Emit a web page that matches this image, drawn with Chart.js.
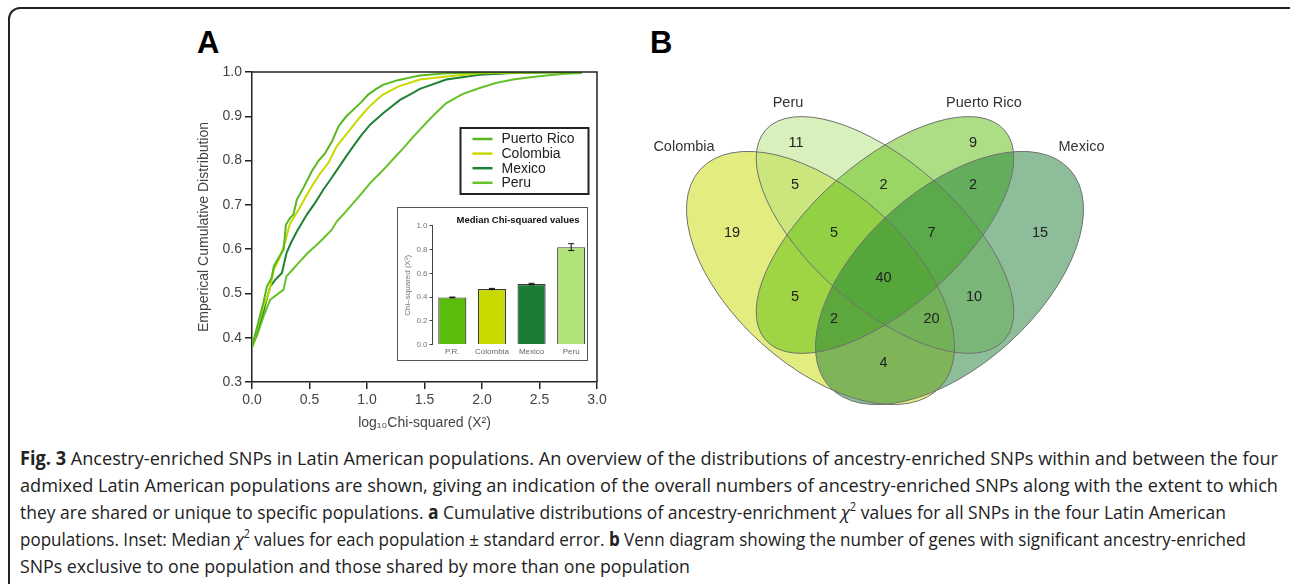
<!DOCTYPE html>
<html>
<head>
<meta charset="utf-8">
<script src="https://cdn.jsdelivr.net/npm/chart.js"></script>
<style>
  html, body { margin: 0; padding: 0; background: #fff; width: 1290px; height: 584px; overflow: hidden; }
  body { font-family: 'Liberation Sans', Arial, sans-serif; position: relative; }
  #frame { position: absolute; left: 8px; top: 7px; width: 1300px; height: 600px; border: 2px solid #222; border-radius: 12px; }
  .panel { position: absolute; font-family: 'Liberation Sans', Arial, sans-serif; font-weight: bold; font-size: 31px; color: #000; line-height: 1; }
  #boxA { position: absolute; left: 196px; top: 50px; width: 430px; height: 382px; }
  #inset { position: absolute; left: 397px; top: 207px; width: 189px; height: 152px; border: 1.5px solid #555; background: #fff; overflow: hidden; }
  #insetInner { position: absolute; left: 0; top: 0; width: 193px; height: 152px; }
  #boxB { position: absolute; left: 620px; top: 80px; width: 500px; height: 340px; }
  #caption { position: absolute; left: 20px; top: 445px; font-family: 'Open Sans', 'Noto Sans', sans-serif; font-size: 19px; line-height: 27px; color: #222; }
  .ln { display: block; white-space: nowrap; height: 27px; }
  .ln .t { display: inline-block; transform-origin: 0 50%; }
  .ln b { font-weight: 700; }
  .ln sup { font-size: 12px; line-height: 0; vertical-align: 8px; }
</style>
</head>
<body>
<div id="frame"></div>
<div class="panel" style="left:197px;top:27px;">A</div>
<div class="panel" style="left:650px;top:27px;">B</div>

<div id="boxA"><canvas id="cdfChart"></canvas></div>
<div id="inset"><div id="insetInner"><canvas id="insetChart"></canvas></div></div>
<div id="boxB"><canvas id="vennChart"></canvas></div>

<div id="caption">
  <div class="ln"><span class="t" data-w="1258"><b>Fig. 3</b> Ancestry-enriched SNPs in Latin American populations. An overview of the distributions of ancestry-enriched SNPs within and between the four</span></div>
  <div class="ln"><span class="t" data-w="1258">admixed Latin American populations are shown, giving an indication of the overall numbers of ancestry-enriched SNPs along with the extent to which</span></div>
  <div class="ln"><span class="t" data-w="1206">they are shared or unique to specific populations. <b>a</b> Cumulative distributions of ancestry-enrichment <i>χ</i><sup>2</sup> values for all SNPs in the four Latin American</span></div>
  <div class="ln"><span class="t" data-w="1226">populations. Inset: Median <i>χ</i><sup>2</sup> values for each population ± standard error. <b>b</b> Venn diagram showing the number of genes with significant ancestry-enriched</span></div>
  <div class="ln"><span class="t" data-w="670">SNPs exclusive to one population and those shared by more than one population</span></div>
</div>

<script>
// Panel A: cumulative distributions (log10 chi-squared vs ECDF)
const xPuertoRico = [0, 0.05, 0.10, 0.13, 0.17, 0.19, 0.23, 0.275, 0.295, 0.33, 0.36, 0.39, 0.45, 0.52, 0.58, 0.636, 0.695, 0.752, 0.82, 0.882, 0.95, 1.01, 1.08, 1.14, 1.26, 1.40, 1.46, 1.69, 2.0, 2.87];
const yPuertoRico = [0.379, 0.43, 0.48, 0.516, 0.535, 0.561, 0.58, 0.599, 0.655, 0.67, 0.678, 0.712, 0.74, 0.776, 0.80, 0.817, 0.843, 0.877, 0.90, 0.915, 0.932, 0.949, 0.962, 0.971, 0.981, 0.989, 0.992, 0.997, 0.999, 1.0];

const xColombia = [0, 0.05, 0.10, 0.15, 0.19, 0.24, 0.29, 0.327, 0.36, 0.405, 0.46, 0.52, 0.59, 0.665, 0.737, 0.80, 0.853, 0.93, 1.01, 1.08, 1.14, 1.27, 1.46, 1.69, 1.98, 2.4, 2.87];
const yColombia = [0.379, 0.425, 0.47, 0.505, 0.554, 0.58, 0.618, 0.655, 0.67, 0.689, 0.715, 0.742, 0.77, 0.795, 0.832, 0.853, 0.870, 0.895, 0.919, 0.936, 0.949, 0.967, 0.983, 0.990, 0.997, 0.999, 1.0];

const xMexico = [0, 0.05, 0.10, 0.159, 0.20, 0.26, 0.30, 0.34, 0.39, 0.477, 0.55, 0.62, 0.69, 0.75, 0.82, 0.88, 0.95, 1.027, 1.14, 1.287, 1.40, 1.46, 1.69, 1.98, 2.27, 2.87];
const yMexico = [0.379, 0.42, 0.46, 0.516, 0.53, 0.546, 0.591, 0.615, 0.640, 0.678, 0.705, 0.734, 0.76, 0.783, 0.81, 0.832, 0.857, 0.881, 0.907, 0.937, 0.953, 0.962, 0.983, 0.994, 0.998, 1.0];

const xPeru = [0, 0.05, 0.10, 0.159, 0.23, 0.274, 0.30, 0.35, 0.405, 0.48, 0.564, 0.63, 0.694, 0.738, 0.81, 0.88, 0.95, 1.027, 1.10, 1.17, 1.24, 1.316, 1.39, 1.46, 1.57, 1.69, 1.83, 1.98, 2.12, 2.27, 2.42, 2.56, 2.72, 2.87];
const yPeru = [0.379, 0.41, 0.448, 0.486, 0.50, 0.508, 0.539, 0.553, 0.569, 0.59, 0.610, 0.627, 0.644, 0.663, 0.683, 0.704, 0.725, 0.749, 0.768, 0.787, 0.807, 0.828, 0.85, 0.870, 0.90, 0.930, 0.95, 0.964, 0.975, 0.983, 0.988, 0.992, 0.996, 0.998];

const xTicks = [0, 0.5, 1.0, 1.5, 2.0, 2.5, 3.0];
const yTicks = [0.3, 0.4, 0.5, 0.6, 0.7, 0.8, 0.9, 1.0];

// Inset: median chi-squared per population
const insetLabels = ['P.R.', 'Colombia', 'Mexico', 'Peru'];
const medianVals = [0.397, 0.468, 0.510, 0.821];
const medianErr = [0.003, 0.005, 0.006, 0.029];

// Panel B: Venn counts
const vennSets = ['Colombia', 'Peru', 'Puerto Rico', 'Mexico'];
const vennRegions = ['C', 'P', 'R', 'M', 'CP', 'PR', 'RM', 'CPR', 'PRM', 'CPRM', 'CR', 'PM', 'CRM', 'CPM', 'CM'];
const vennCounts = [19, 11, 9, 15, 5, 2, 2, 5, 7, 40, 5, 10, 2, 20, 4];

const FONT = "'Liberation Sans', Arial, sans-serif";
const popColors = { 'Puerto Rico': '#5bbd0b', 'Colombia': '#c8d900', 'Mexico': '#1b7d34', 'Peru': '#b2e27a' };
const lineColors = ['#55b81e', '#c8d900', '#1e8236', '#66c22a'];

const series = [
  { label: 'Puerto Rico', x: xPuertoRico, y: yPuertoRico },
  { label: 'Colombia', x: xColombia, y: yColombia },
  { label: 'Mexico', x: xMexico, y: yMexico },
  { label: 'Peru', x: xPeru, y: yPeru }
];

// box on top/right and the legend inside the plot
const boxLegend = {
  id: 'boxLegend',
  afterDraw(chart) {
    const { ctx, chartArea: a } = chart;
    ctx.save();
    ctx.strokeStyle = '#222';
    ctx.lineWidth = 1.5;
    ctx.beginPath();
    ctx.moveTo(a.left, a.top);
    ctx.lineTo(a.right, a.top);
    ctx.lineTo(a.right, a.bottom);
    ctx.stroke();

    const w = 128, h = 66;
    const x0 = a.right - 8.5 - w, y0 = a.top + 56;
    ctx.fillStyle = '#fff';
    ctx.fillRect(x0, y0, w, h);
    ctx.lineWidth = 2;
    ctx.strokeRect(x0, y0, w, h);
    ctx.font = '14px ' + FONT;
    ctx.textBaseline = 'middle';
    chart.data.datasets.forEach((ds, i) => {
      const yy = y0 + 11 + i * 14.6;
      ctx.strokeStyle = ds.borderColor;
      ctx.lineWidth = 2.5;
      ctx.beginPath();
      ctx.moveTo(x0 + 12, yy);
      ctx.lineTo(x0 + 32, yy);
      ctx.stroke();
      ctx.fillStyle = '#222';
      ctx.fillText(ds.label, x0 + 41, yy + 0.5);
    });
    ctx.restore();
  }
};

new Chart(document.getElementById('cdfChart'), {
  type: 'scatter',
  data: {
    datasets: series.map((s, i) => ({
      label: s.label,
      data: s.x.map((v, j) => ({ x: v, y: s.y[j] })),
      showLine: true,
      borderColor: lineColors[i],
      borderWidth: 2,
      pointRadius: 0,
      tension: 0,
      fill: false
    }))
  },
  options: {
    responsive: true,
    maintainAspectRatio: false,
    animation: false,
    layout: { padding: { left: 0, top: 22, right: 29, bottom: 0 } },
    plugins: { legend: { display: false }, tooltip: { enabled: false } },
    scales: {
      x: {
        type: 'linear', min: 0, max: 3,
        afterBuildTicks: s => { s.ticks = xTicks.map(v => ({ value: v })); },
        ticks: { callback: v => v.toFixed(1), font: { size: 14, family: FONT }, color: '#444', padding: 3, maxRotation: 0 },
        grid: { drawOnChartArea: false, tickLength: 7, color: '#222', lineWidth: 1.5 },
        border: { color: '#222', width: 1.5 },
        title: { display: true, text: 'log₁₀Chi-squared (X²)', font: { size: 14, family: FONT }, color: '#444', padding: 0 },
        afterFit: s => { s.height = 50; }
      },
      y: {
        type: 'linear', min: 0.3, max: 1.0,
        afterBuildTicks: s => { s.ticks = yTicks.map(v => ({ value: v })); },
        ticks: { callback: v => v.toFixed(1), font: { size: 14, family: FONT }, color: '#444', padding: 3 },
        grid: { drawOnChartArea: false, tickLength: 7, color: '#222', lineWidth: 1.5 },
        border: { color: '#222', width: 1.5 },
        title: { display: true, text: 'Emperical Cumulative Distribution', font: { size: 14, family: FONT }, color: '#444', padding: 0 },
        afterFit: s => { s.width = 56; }
      }
    }
  },
  plugins: [boxLegend]
});

// error bars and title for the inset
const insetExtras = {
  id: 'insetExtras',
  afterDatasetsDraw(chart) {
    const { ctx, chartArea: a } = chart;
    const ys = chart.scales.y;
    const meta = chart.getDatasetMeta(0);
    ctx.save();
    ctx.strokeStyle = '#111';
    ctx.lineWidth = 1;
    meta.data.forEach((bar, i) => {
      const top = ys.getPixelForValue(medianVals[i] + medianErr[i]);
      const bot = ys.getPixelForValue(medianVals[i] - medianErr[i]);
      ctx.beginPath();
      ctx.moveTo(bar.x, top); ctx.lineTo(bar.x, bot);
      ctx.moveTo(bar.x - 3, top); ctx.lineTo(bar.x + 3, top);
      ctx.moveTo(bar.x - 3, bot); ctx.lineTo(bar.x + 3, bot);
      ctx.stroke();
    });
    ctx.fillStyle = '#111';
    ctx.font = 'bold 9.5px ' + FONT;
    ctx.textAlign = 'right';
    ctx.textBaseline = 'middle';
    ctx.fillText('Median Chi-squared values', a.right - 11.5, 12.2);
    ctx.restore();
  }
};

new Chart(document.getElementById('insetChart'), {
  type: 'bar',
  data: {
    labels: insetLabels,
    datasets: [{
      data: medianVals,
      backgroundColor: [popColors['Puerto Rico'], popColors['Colombia'], popColors['Mexico'], popColors['Peru']],
      borderColor: '#3a3a3a',
      borderWidth: 1.2,
      categoryPercentage: 1,
      barPercentage: 0.71
    }]
  },
  options: {
    responsive: true,
    maintainAspectRatio: false,
    animation: false,
    layout: { padding: { left: 5, top: 17.9, right: 0, bottom: 0 } },
    plugins: { legend: { display: false }, tooltip: { enabled: false } },
    scales: {
      x: {
        grid: { display: false, drawTicks: false, tickLength: 0 },
        border: { display: false },
        ticks: { font: { size: 8, family: FONT }, color: '#666', padding: 2, maxRotation: 0 },
        afterFit: s => { s.height = 15.5; }
      },
      y: {
        min: 0, max: 1,
        ticks: { stepSize: 0.2, callback: v => v.toFixed(1), font: { size: 8, family: FONT }, color: '#777', padding: 2 },
        grid: { drawOnChartArea: false, tickLength: 3, color: '#444' },
        border: { color: '#444', width: 1 },
        title: { display: true, text: 'Chi–squared (X²)', font: { size: 8, family: FONT }, color: '#777', padding: 0 },
        afterFit: s => { s.width = 29.5; }
      }
    }
  },
  plugins: [insetExtras]
});

// Venn layout (diagram units = px, origin at the centre of the inner pair)
const vennShapes = {
  Colombia:      { cx: -64.5, cy: -43, a: 162, b: 88, rot: 42 },
  Peru:          { cx: 0, cy: 0, a: 159, b: 73, rot: 41.3 },
  'Puerto Rico': { cx: 0, cy: 0, a: 159, b: 73, rot: -41.3 },
  Mexico:        { cx: 64.5, cy: -43, a: 162, b: 88, rot: -42 }
};
const vennLabelPos = {
  C: [-153, 2], P: [-89, 92], R: [88, 92], M: [155, 2],
  CP: [-90, 50], PR: [-1.5, 50.5], RM: [88, 50.5],
  CPR: [-51, 2], PRM: [46.5, 2], CPRM: [-1.5, -42.5],
  CR: [-90, -61.5], PM: [89, -61.5], CRM: [-51, -84], CPM: [46.5, -84], CM: [-1.5, -127.5]
};
const vennSetPos = { Colombia: [-201, 88.5], Peru: [-97, 132], 'Puerto Rico': [99, 132], Mexico: [196.5, 88.5] };

const vennDraw = {
  id: 'vennDraw',
  afterDraw(chart) {
    const { ctx } = chart;
    const xs = chart.scales.x, ys = chart.scales.y;
    const px = v => xs.getPixelForValue(v);
    const py = v => ys.getPixelForValue(v);
    const sx = xs.getPixelForValue(1) - xs.getPixelForValue(0);
    ctx.save();
    vennSets.forEach(name => {
      const e = vennShapes[name];
      ctx.beginPath();
      ctx.ellipse(px(e.cx), py(e.cy), e.a * sx, e.b * sx, e.rot * Math.PI / 180, 0, Math.PI * 2);
      ctx.globalAlpha = 0.5;
      ctx.fillStyle = popColors[name];
      ctx.fill();
    });
    ctx.globalAlpha = 1;
    ctx.strokeStyle = '#707070';
    ctx.lineWidth = 1;
    vennSets.forEach(name => {
      const e = vennShapes[name];
      ctx.beginPath();
      ctx.ellipse(px(e.cx), py(e.cy), e.a * sx, e.b * sx, e.rot * Math.PI / 180, 0, Math.PI * 2);
      ctx.stroke();
    });
    ctx.textAlign = 'center';
    ctx.textBaseline = 'middle';
    ctx.font = '14.5px ' + FONT;
    ctx.fillStyle = '#222';
    vennRegions.forEach((r, i) => {
      const p = vennLabelPos[r];
      ctx.fillText(String(vennCounts[i]), px(p[0]), py(p[1]));
    });
    ctx.fillStyle = '#333';
    vennSets.forEach(name => {
      const p = vennSetPos[name];
      ctx.fillText(name, px(p[0]), py(p[1]));
    });
    ctx.restore();
  }
};

new Chart(document.getElementById('vennChart'), {
  type: 'scatter',
  data: { datasets: [{ data: [], pointRadius: 0 }] },
  options: {
    responsive: true,
    maintainAspectRatio: false,
    animation: false,
    layout: { padding: 0 },
    plugins: { legend: { display: false }, tooltip: { enabled: false } },
    scales: {
      x: { type: 'linear', display: false, min: -265, max: 235 },
      y: { type: 'linear', display: false, min: -185, max: 155 }
    }
  },
  plugins: [vennDraw]
});

// squeeze caption lines to their widths in the figure
document.querySelectorAll('#caption .t').forEach(el => {
  const w = el.getBoundingClientRect().width;
  const target = parseFloat(el.dataset.w);
  el.style.transform = 'scaleX(' + (target / w) + ')';
});
</script>
</body>
</html>
